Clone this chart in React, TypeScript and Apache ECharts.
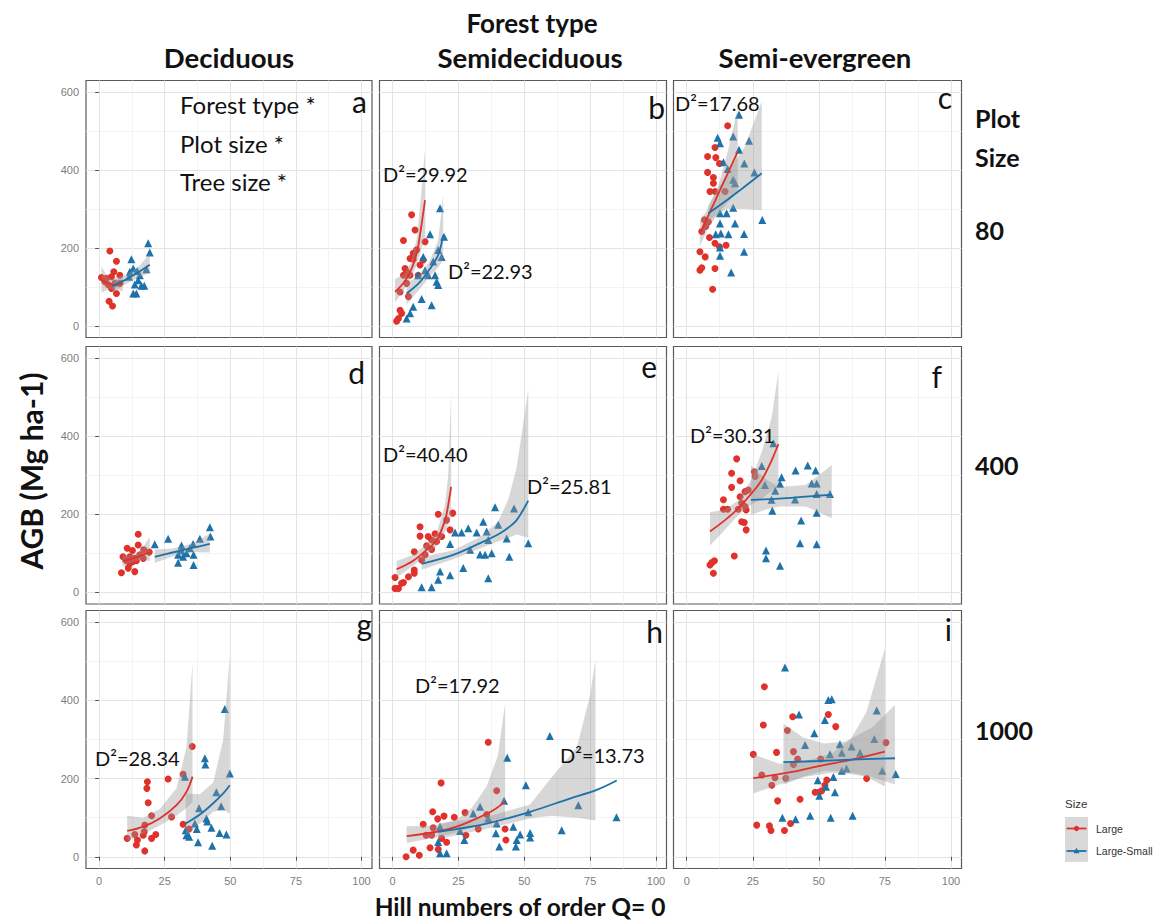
import React, { useEffect, useRef } from "react";
import * as echarts from "echarts";

// ---------- axes / labels ----------
const xTicks = [0, 25, 50, 75, 100];
const xMinorTicks = [12.5, 37.5, 62.5, 87.5];
const yTicks = [0, 200, 400, 600];
const yMinorTicks = [100, 300, 500];
const forestTypes = ["Deciduous", "Semideciduous", "Semi-evergreen"];
const plotSizes = ["80", "400", "1000"];
const panelLetters = ["a", "b", "c", "d", "e", "f", "g", "h", "i"];
const sizeClasses = ["Large", "Large-Small"];

// ---------- panel a (Deciduous, 80) ----------
const aLarge = [[0.9,124],[2.2,113],[2.8,122],[3.4,106],[3.8,63],[4.1,192],[4.7,126],[4.7,96],[5.1,51],[5.6,139],[6.0,109],[6.6,166],[6.6,83],[7.9,130],[7.9,109]];
const aSmall = [[11.4,126],[11.7,139],[12.3,171],[13,147],[13,83],[13.6,106],[14.2,83],[14.5,141],[14.9,117],[15.5,130],[16.1,103],[17.2,103],[18,145],[18.7,212],[19.3,188]];
const aLargeFit = [[0.9,118],[3,110],[5,106],[7,106],[9,109]];
const aSmallFit = [[5,102],[10,118],[15,138],[19.3,157]];
const aLargeBand = [[0.9,85,152],[3,92,128],[5,95,118],[7,93,120],[9,88,132]];
const aSmallBand = [[5,85,122],[10,106,130],[15,125,152],[19.3,135,185]];

// ---------- panel b (Semideciduous, 80) ----------
const bLarge = [[1.5,12],[2.2,19],[2.8,40],[2.8,87],[3.4,32],[4.1,219],[4.1,130],[4.7,147],[5.3,139],[5.3,109],[6.0,75],[6.6,173],[6.6,130],[7.2,285],[7.8,171],[7.8,186],[8.5,246],[9.1,195],[9.7,130],[10.4,156],[11.6,169],[12.3,216]];
const bSmall = [[5.3,19],[6.6,32],[7.8,49],[9.7,130],[11,69],[11.6,177],[12.3,143],[13.5,130],[14.2,235],[14.8,53],[15.4,165],[16.1,130],[16.7,113],[17.3,195],[17.3,105],[18,302],[18.6,177],[19.5,229]];
const bLargeFit = [[0.9,87],[4.1,110],[6.6,137],[9.1,185],[10.4,235],[12.3,323]];
const bSmallFit = [[5.3,83],[10.4,113],[14.2,147],[17.3,182],[19.2,233]];
const bLargeBand = [[0.9,60,120],[4.1,90,132],[6.6,118,158],[9.1,155,222],[10.4,185,305],[12.3,230,452]];
const bSmallBand = [[5.3,55,110],[10.4,95,130],[14.2,128,168],[17.3,150,220],[19.2,170,336]];

// ---------- panel c (Semi-evergreen, 80) ----------
const cLarge = [[5,190],[5,143],[5.7,242],[5.7,149],[6.7,272],[7,177],[7.2,255],[7.9,435],[7.9,394],[8.2,267],[8.6,227],[8.8,345],[9.8,94],[10.1,381],[10.1,366],[10.7,458],[10.7,345],[10.7,212],[10.7,147],[11,432],[12.4,417],[12.4,203],[14.5,345],[14.9,207],[15.5,514]];
const cSmall = [[11,235],[11.7,483],[12.6,469],[12.6,289],[12.6,263],[12.6,201],[12.6,180],[12.9,237],[13.9,420],[15.1,289],[15.5,403],[15.8,235],[16.8,137],[17.6,486],[17.6,375],[17.6,303],[18.3,366],[18.3,263],[19.8,542],[19.8,452],[21.7,236],[21.7,190],[21.8,417],[23.6,475],[25.6,394],[28.6,272]];
const cLargeFit = [[5,237],[10,310],[15,384],[19.3,447]];
const cSmallFit = [[8.2,289],[15,322],[22,358],[28.4,392]];
const cLargeBand = [[5,205,270],[8,250,300],[12,290,360],[16,320,460],[19.3,345,560]];
const cSmallBand = [[8.2,270,310],[15,300,390],[22,300,460],[28.4,297,576]];

// ---------- panel d (Deciduous, 400) ----------
const dLarge = [[8.5,50],[9.1,91],[10.4,81],[10.7,113],[11.1,62],[11.7,91],[11.7,74],[12.7,107],[12.9,79],[13.6,87],[13.6,53],[14.2,81],[14.9,149],[14.9,121],[15.5,96],[16.8,87],[17,109],[19.1,103]];
const dSmall = [[21.2,123],[26.3,137],[30.1,96],[30.1,76],[31.4,120],[31.4,107],[32,91],[33.3,100],[34.6,113],[35.8,124],[36,96],[36,70],[38.4,137],[42.2,167],[42.4,143]];
const dLargeFit = [[8.9,79],[12,85],[15.5,93],[19.3,103]];
const dSmallFit = [[21.2,91],[28,102],[35,113],[42.2,124]];
const dLargeBand = [[8.9,65,95],[12,76,94],[15.5,82,104],[19.3,80,142]];
const dSmallBand = [[21.2,75,110],[28,92,112],[35,103,124],[42.2,102,150]];

// ---------- panel e (Semideciduous, 400) ----------
const eLarge = [[0.9,38],[0.9,10],[2.2,10],[3.4,23],[4.1,25],[6,40],[8.2,104],[8.2,57],[8.2,49],[10.4,168],[10.4,144],[11,83],[12.3,96],[12.9,119],[13.5,143],[14.8,134],[14.8,110],[16.1,150],[16.7,130],[17.3,200],[18.6,143],[20.5,185],[21.8,160],[22.8,203]];
const eSmall = [[11,13],[14.8,13],[17.3,32],[18,53],[21.8,124],[21.8,44],[23.7,153],[26.2,153],[26.8,62],[28.7,164],[29.4,109],[31.9,153],[33.2,97],[34.4,181],[35.1,96],[35.7,156],[36.3,134],[36.3,36],[37.6,100],[38.9,218],[40.1,173],[43.3,138],[44.3,91],[46.1,215],[51.5,126]];
const eLargeFit = [[1.5,59],[7.8,81],[12.9,109],[16.7,134],[19.9,185],[21.1,224],[22.2,270]];
const eSmallFit = [[11,73],[23,96],[33.2,126],[40,148],[44,166],[47.1,185],[51.5,235]];
const eLargeBand = [[1.5,38,80],[7.8,68,96],[12.9,96,124],[16.7,118,152],[19.9,155,225],[21.1,175,300],[22.2,195,510]];
const eSmallBand = [[11,58,90],[23,85,108],[33.2,112,142],[40,130,180],[44,140,240],[47.1,148,320],[51.5,140,519]];

// ---------- panel f (Semi-evergreen, 400) ----------
const fLarge = [[8.8,70],[9.5,76],[10.1,49],[10.5,81],[13.9,237],[13.9,213],[15.5,213],[17,305],[17,269],[18,93],[18.9,342],[19.5,213],[20.2,286],[20.2,245],[20.8,228],[20.8,181],[21.8,179],[22.1,258],[22.1,220],[22.5,211],[22.5,160],[23.3,262],[25.6,309],[25.9,297]];
const fSmall = [[28.4,324],[29.6,275],[30,107],[30,87],[32.1,237],[32.4,209],[32.8,382],[33.5,260],[35.3,278],[35.3,68],[35.9,295],[41,238],[41.2,312],[42.9,126],[43.3,184],[45.8,325],[47.3,279],[48.8,312],[49.2,279],[49.2,252],[49.2,204],[49.2,123],[54.2,252]];
const fLargeFit = [[8.8,156],[14.5,185],[19.5,215],[24.6,254],[28.4,288],[32.2,339],[34.7,380]];
const fSmallFit = [[24.3,237],[35,240],[45,245],[54.9,250]];
const fLargeBand = [[8.8,120,205],[14.5,160,212],[19.5,198,235],[24.6,225,290],[28.4,240,360],[32.2,260,450],[34.7,275,565]];
const fSmallBand = [[24.3,198,326],[30,212,290],[35,220,270],[45,220,275],[50,205,300],[54.9,190,326]];

// ---------- panel g (Deciduous, 1000) ----------
const gLarge = [[10.7,47],[13.6,57],[14.2,30],[14.6,43],[16.8,55],[17.2,64],[17.4,81],[17.4,15],[18.2,175],[18.4,192],[18.7,138],[20,105],[20,47],[21.6,57],[26.3,199],[27.6,102],[32,211],[32,83],[34.3,71],[35.5,282]];
const gSmall = [[32.7,205],[33,68],[33.3,55],[34.3,51],[36.5,85],[37.2,71],[37.7,37],[38.1,124],[40.3,252],[40.5,236],[40.9,98],[41.2,90],[42.8,74],[43.1,28],[44.7,165],[45.9,61],[46.5,129],[47.9,378],[48.5,57],[49.8,213]];
const gLargeFit = [[10.7,66],[16.8,77],[23.1,98],[29.5,132],[33.3,166],[35.6,205]];
const gSmallFit = [[33,85],[38.4,108],[43.5,137],[47.3,162],[49.8,183]];
const gLargeBand = [[10.7,40,105],[16.8,58,100],[23.1,80,122],[29.5,105,175],[33.3,125,280],[35.6,140,495]];
const gSmallBand = [[33,55,162],[38.4,85,160],[43.5,115,190],[47.3,120,300],[49.8,110,516]];

// ---------- panel h (Semideciduous, 1000) ----------
const hLarge = [[5.1,0],[7.8,17],[10.1,4],[11.6,83],[12.7,55],[14.2,23],[14.8,55],[15.2,115],[15.4,74],[17.1,97],[17.3,19],[18.4,189],[18.6,47],[19.5,104],[20.5,37],[23.4,101],[27.5,113],[27.8,55],[32.5,71],[35.7,108],[36.3,293],[39.5,169],[42.7,71],[43,43]];
const hSmall = [[17.3,38],[18,77],[18,9],[20.5,9],[25.6,66],[27.2,43],[30.6,111],[33.2,128],[36.3,98],[39.2,60],[39.5,85],[40.5,26],[42.3,143],[43.5,253],[45.8,77],[46.8,26],[47.1,43],[48.4,57],[50.6,183],[51.5,114],[52.2,61],[52.2,49],[59.7,309],[64.2,68],[70.5,132],[85,101]];
const hLargeFit = [[5.3,53],[16.7,64],[24.3,77],[31.9,98],[38.2,119],[42.7,141]];
const hSmallFit = [[17.3,64],[35.7,85],[52.2,115],[67.3,149],[77.5,171],[85.1,195]];
const hLargeBand = [[5.3,35,78],[16.7,50,80],[24.3,62,95],[30,75,125],[35.7,88,180],[40,95,260],[42.7,98,393]];
const hSmallBand = [[17.3,45,85],[35.7,72,102],[52.2,98,134],[60,105,200],[70,100,280],[75,95,414],[77,93,504]];

// ---------- panel i (Semi-evergreen, 1000) ----------
const iLarge = [[25.2,262],[26.5,81],[28.4,209],[29,337],[29.4,435],[31.3,79],[31.9,67],[32.2,183],[33.4,202],[34,267],[34.4,143],[37,67],[37.5,201],[38.1,323],[39.3,85],[40.1,358],[40.4,269],[40.4,236],[42,250],[42.9,147],[48.6,165],[50.1,165],[50.7,250],[51.1,169],[52.3,183],[53,196],[53.6,364],[56.4,333],[68.1,200],[75.4,292]];
const iSmall = [[36.2,100],[37.2,484],[41.2,96],[42.5,364],[44.8,286],[46.7,105],[48.3,316],[49.6,196],[50.2,156],[52.3,350],[52.7,179],[53.6,401],[54.2,262],[54.5,100],[54.9,403],[55.5,204],[56.1,165],[58,288],[58.7,266],[58.7,220],[60.5,226],[62.4,282],[62.8,105],[65.6,266],[71,301],[71.9,374],[74,220],[79.1,212]];
const iLargeFit = [[25.2,201],[40,217],[50,232],[62,248],[75,269]];
const iSmallFit = [[36.6,242],[50,245],[65,249],[78.8,252]];
const iLargeBand = [[25.2,162,262],[35,185,238],[45,205,245],[55,215,265],[62,212,300],[68,205,370],[75,180,533]];
const iSmallBand = [[36.6,184,341],[44,205,305],[52,220,290],[60,218,295],[70,205,330],[78.8,185,388]];

// D² annotations (text per panel)
const dLabels = [
  { panel: 1, text: "D²=29.92" }, { panel: 1, text: "D²=22.93" },
  { panel: 2, text: "D²=17.68" },
  { panel: 4, text: "D²=40.40" }, { panel: 4, text: "D²=25.81" },
  { panel: 5, text: "D²=30.31" },
  { panel: 6, text: "D²=28.34" },
  { panel: 7, text: "D²=17.92" }, { panel: 7, text: "D²=13.73" },
];
const effectLines = ["Forest type *", "Plot size *", "Tree size *"];

const panels = [
  { large: aLarge, small: aSmall, largeFit: aLargeFit, smallFit: aSmallFit, largeBand: aLargeBand, smallBand: aSmallBand },
  { large: bLarge, small: bSmall, largeFit: bLargeFit, smallFit: bSmallFit, largeBand: bLargeBand, smallBand: bSmallBand },
  { large: cLarge, small: cSmall, largeFit: cLargeFit, smallFit: cSmallFit, largeBand: cLargeBand, smallBand: cSmallBand },
  { large: dLarge, small: dSmall, largeFit: dLargeFit, smallFit: dSmallFit, largeBand: dLargeBand, smallBand: dSmallBand },
  { large: eLarge, small: eSmall, largeFit: eLargeFit, smallFit: eSmallFit, largeBand: eLargeBand, smallBand: eSmallBand },
  { large: fLarge, small: fSmall, largeFit: fLargeFit, smallFit: fSmallFit, largeBand: fLargeBand, smallBand: fSmallBand },
  { large: gLarge, small: gSmall, largeFit: gLargeFit, smallFit: gSmallFit, largeBand: gLargeBand, smallBand: gSmallBand },
  { large: hLarge, small: hSmall, largeFit: hLargeFit, smallFit: hSmallFit, largeBand: hLargeBand, smallBand: hSmallBand },
  { large: iLarge, small: iSmall, largeFit: iLargeFit, smallFit: iSmallFit, largeBand: iLargeBand, smallBand: iSmallBand },
];

// ---------- layout / style ----------
const RED = "#E0312B";
const BLUE = "#1D72AA";
const BAND = "rgba(150,150,150,0.38)";
const COL_LEFT = [86, 379.5, 673.5];
const COL_W = [286, 287, 288];
const ROW_TOP = [80.5, 346.5, 610.5];
const ROW_H = [257, 257.5, 258];
const FONT = "Lato, 'Open Sans', sans-serif";
const LETTER_POS = [[367, 101], [665, 107], [952, 97], [365, 372], [657, 366], [942, 376], [372, 624], [663, 631], [952, 629]];
const DLABEL_POS = [[383, 174], [448, 271], [675, 103], [383, 454], [527, 486], [690, 435], [95, 758], [415, 685], [560, 755]];

function txt(text: string, x: number, y: number, o: any = {}) {
  return {
    type: "text", x, y, silent: true, rotation: o.rotation || 0, scaleX: o.scaleX || 1, z: 100,
    style: {
      text, fill: o.color || "#111",
      fontSize: o.size || 20, fontFamily: o.family || FONT, fontWeight: o.weight || "normal",
      textAlign: o.align || "left", align: o.align || "left",
      textVerticalAlign: "middle", verticalAlign: "middle",
    },
  };
}

export default function App() {
  const ref = useRef<HTMLDivElement>(null);
  useEffect(() => {
    document.body.style.margin = "0";
    const chart = echarts.init(ref.current as HTMLDivElement, null, { renderer: "svg" });
    const grid: any[] = [], xAxis: any[] = [], yAxis: any[] = [], series: any[] = [];

    const bandSeries = (band: number[][], k: number) => ({
      type: "custom", xAxisIndex: 2 * k, yAxisIndex: 2 * k, data: band, silent: true, z: 3,
      encode: { x: 0, y: [1, 2] },
      renderItem: (params: any, api: any) => {
        if (params.dataIndex !== 0) return null;
        const top = band.map((d) => api.coord([d[0], d[2]]));
        const bottom = band.slice().reverse().map((d) => api.coord([d[0], d[1]]));
        return { type: "polygon", shape: { points: top.concat(bottom) }, style: { fill: BAND } };
      },
    });

    panels.forEach((p, k) => {
      const r = Math.floor(k / 3), c = k % 3;
      grid.push({ left: COL_LEFT[c], top: ROW_TOP[r], width: COL_W[c], height: ROW_H[r], show: true, borderColor: "#5a5a5a", borderWidth: 1.2, backgroundColor: "#fff" });
      xAxis.push({
        gridIndex: k, type: "value", min: -5, max: 104, axisLine: { show: false },
        axisTick: { show: r === 2, customValues: xTicks, length: 4, lineStyle: { color: "#555" } },
        axisLabel: { show: r === 2, customValues: xTicks, fontSize: 11, color: "#7d7d7d", margin: 7, fontFamily: "Liberation Sans" },
        splitLine: { show: true, lineStyle: { color: "#e4e4e4", width: 1 } },
      });
      xAxis.push({
        gridIndex: k, type: "value", min: -5, max: 104, axisLine: { show: false },
        axisTick: { show: false, customValues: xMinorTicks }, axisLabel: { show: false, customValues: xMinorTicks },
        splitLine: { show: true, lineStyle: { color: "#f0f0f0", width: 0.8 } },
      });
      yAxis.push({
        gridIndex: k, type: "value", min: -30, max: 630, axisLine: { show: false },
        axisTick: { show: c === 0, customValues: yTicks, length: 4, lineStyle: { color: "#555" } },
        axisLabel: { show: c === 0, customValues: yTicks, fontSize: 11, color: "#7d7d7d", margin: 7, fontFamily: "Liberation Sans" },
        splitLine: { show: true, lineStyle: { color: "#e4e4e4", width: 1 } },
      });
      yAxis.push({
        gridIndex: k, type: "value", min: -30, max: 630, axisLine: { show: false },
        axisTick: { show: false, customValues: yMinorTicks }, axisLabel: { show: false, customValues: yMinorTicks },
        splitLine: { show: true, lineStyle: { color: "#f0f0f0", width: 0.8 } },
      });
      const ax = { xAxisIndex: 2 * k, yAxisIndex: 2 * k };
      series.push({ ...ax, type: "scatter", name: sizeClasses[0], data: p.large, symbol: "circle", symbolSize: 7, itemStyle: { color: RED, opacity: 1 }, z: 2, silent: true });
      series.push({ ...ax, type: "scatter", name: sizeClasses[1], data: p.small, symbol: "triangle", symbolSize: 8, itemStyle: { color: BLUE, opacity: 1 }, z: 2, silent: true });
      series.push(bandSeries(p.largeBand, k));
      series.push(bandSeries(p.smallBand, k));
      series.push({ ...ax, type: "line", data: p.largeFit, showSymbol: false, smooth: 0.35, lineStyle: { color: RED, width: 1.8 }, z: 4, silent: true });
      series.push({ ...ax, type: "line", data: p.smallFit, showSymbol: false, smooth: 0.35, lineStyle: { color: BLUE, width: 1.8 }, z: 4, silent: true });
    });

    const graphic: any[] = [];
    // column titles
    graphic.push(txt("Forest type", 532, 23, { size: 26, weight: "bold", align: "center" }));
    const colCenters = [229, 530, 815];
    forestTypes.forEach((t, i) => graphic.push(txt(t, colCenters[i], 58, { size: 26, weight: "bold", align: "center", scaleX: 1.06 })));
    // row labels
    graphic.push(txt("Plot", 975, 118, { size: 25, weight: "bold" }));
    graphic.push(txt("Size", 975, 157, { size: 25, weight: "bold" }));
    const rowCenters = [230, 465, 730];
    plotSizes.forEach((t, i) => graphic.push(txt(t, 975, rowCenters[i], { size: 25, weight: "bold" })));
    // axis titles
    graphic.push(txt("AGB (Mg ha-1)", 31, 471, { size: 30, weight: "bold", align: "center", rotation: Math.PI / 2 }));
    graphic.push(txt("Hill numbers of order Q= 0", 520, 906, { size: 24.5, weight: "bold", align: "center" }));
    // panel letters
    panelLetters.forEach((l, i) => graphic.push(txt(l, LETTER_POS[i][0], LETTER_POS[i][1], { size: 30, align: "right" })));
    // effects text
    const effY = [104, 143, 181];
    effectLines.forEach((t, i) => graphic.push(txt(t, 180, effY[i], { size: 24 })));
    // D² labels
    dLabels.forEach((d, i) => graphic.push(txt(d.text, DLABEL_POS[i][0], DLABEL_POS[i][1], { size: 20 })));
    // legend
    graphic.push(txt("Size", 1065, 804, { size: 11.5, family: "Liberation Sans", color: "#333" }));
    graphic.push({ type: "rect", shape: { x: 1065, y: 817, width: 23, height: 45 }, style: { fill: "#d9d9d9" }, silent: true });
    graphic.push({ type: "line", shape: { x1: 1066.5, y1: 828.5, x2: 1086.5, y2: 828.5 }, style: { stroke: RED, lineWidth: 1.8 }, silent: true });
    graphic.push({ type: "circle", shape: { cx: 1076.5, cy: 828.5, r: 2.6 }, style: { fill: RED }, silent: true });
    graphic.push({ type: "line", shape: { x1: 1066.5, y1: 851, x2: 1086.5, y2: 851 }, style: { stroke: BLUE, lineWidth: 1.8 }, silent: true });
    graphic.push({ type: "polygon", shape: { points: [[1076.5, 847.8], [1079.5, 853.2], [1073.5, 853.2]] }, style: { fill: BLUE }, silent: true });
    graphic.push(txt(sizeClasses[0], 1096, 828.5, { size: 10.5, family: "Liberation Sans", color: "#333" }));
    graphic.push(txt(sizeClasses[1], 1096, 851, { size: 10.5, family: "Liberation Sans", color: "#333" }));

    chart.setOption({ animation: false, backgroundColor: "#fff", grid, xAxis, yAxis, series, graphic });
    return () => chart.dispose();
  }, []);
  return <div ref={ref} style={{ width: 1160, height: 924 }} />;
}
